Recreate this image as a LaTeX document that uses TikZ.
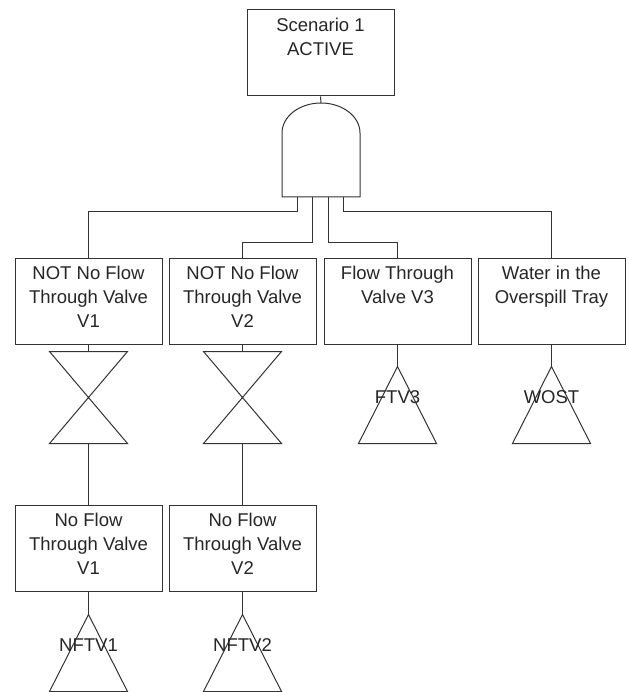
\documentclass[tikz,border=0pt]{standalone}
\usepackage{fontspec}
\setmainfont{Liberation Sans}
\begin{document}
\begin{tikzpicture}[x=1pt,y=-1pt,line width=1pt,draw=black!80,
  event/.style={draw, minimum width=147pt, minimum height=86pt, inner sep=0pt},
  evtext/.style={anchor=north, align=center, inner sep=0pt, text=black!85, font=\fontsize{18.5}{24}\selectfont},
  slot/.style={minimum width=77pt, minimum height=#1, inner sep=0pt},
  code/.style={anchor=base, inner sep=0pt, text=black!85, font=\fontsize{18.5}{24}\selectfont}]
\useasboundingbox (0,0) rectangle (628,692);

\node[event] (top) at (320.5,53) {};
\node[evtext] (top-txt) at ([yshift=-8.5pt]top.north) {Scenario 1\\ACTIVE};

\coordinate (gate) at (321,197);
\coordinate (gate-out) at (321,103);
\draw ([xshift=-39pt]gate) -- ++(0,-64) arc[start angle=180, end angle=0, x radius=39pt, y radius=30pt] -- ++(0,64) -- cycle;
\draw (top.south) -- (gate-out);

\node[event] (b1) at (88.5,301) {};
\node[event] (b2) at (242.5,301) {};
\node[event] (b3) at (397.5,301) {};
\node[event] (b4) at (551.5,301) {};
\node[evtext] (b1-txt) at ([yshift=-8.5pt]b1.north) {NOT No Flow\\Through Valve\\V1};
\node[evtext] (b2-txt) at ([yshift=-8.5pt]b2.north) {NOT No Flow\\Through Valve\\V2};
\node[evtext] (b3-txt) at ([yshift=-8.5pt]b3.north) {Flow Through\\Valve V3};
\node[evtext] (b4-txt) at ([yshift=-8.5pt]b4.north) {Water in the\\Overspill Tray};

\coordinate (in1) at (297,197);
\coordinate (in2) at (312,197);
\coordinate (in3) at (328,197);
\coordinate (in4) at (343,197);
\draw (in1) -- ++(0,15) -| (b1.north);
\draw (in2) -- ++(0,46) -| (b2.north);
\draw (in3) -- ++(0,46) -| (b3.north);
\draw (in4) -- ++(0,15) -| (b4.north);

\node[slot=91pt] (v1) at (88.5,397.5) {};
\node[slot=91pt] (v2) at (242.5,397.5) {};
\foreach \v in {v1,v2}
  \draw (\v.north west) -- (\v.north east) -- (\v.south west) -- (\v.south east) -- cycle;
\draw (b1.south) -- (v1.north);
\draw (b2.south) -- (v2.north);

\node[event] (c1) at (88.5,548) {};
\node[event] (c2) at (242.5,548) {};
\node[evtext] (c1-txt) at ([yshift=-8.5pt]c1.north) {No Flow\\Through Valve\\V1};
\node[evtext] (c2-txt) at ([yshift=-8.5pt]c2.north) {No Flow\\Through Valve\\V2};
\draw (v1.south) -- (c1.north);
\draw (v2.south) -- (c2.north);

\node[slot=76pt] (t3) at (397.5,405) {};
\node[slot=76pt] (t4) at (551.5,405) {};
\node[slot=76pt] (t1) at (88.5,653) {};
\node[slot=76pt] (t2) at (242.5,653) {};
\foreach \t in {t1,t2,t3,t4}
  \draw (\t.north) -- (\t.south east) -- (\t.south west) -- cycle;
\draw (b3.south) -- (t3.north);
\draw (b4.south) -- (t4.north);
\draw (c1.south) -- (t1.north);
\draw (c2.south) -- (t2.north);
\node[code] (t3-txt) at ([yshift=-37pt]t3.north) {FTV3};
\node[code] (t4-txt) at ([yshift=-37pt]t4.north) {WOST};
\node[code] (t1-txt) at ([yshift=-37pt]t1.north) {NFTV1};
\node[code] (t2-txt) at ([yshift=-37pt]t2.north) {NFTV2};
\end{tikzpicture}
\end{document}
